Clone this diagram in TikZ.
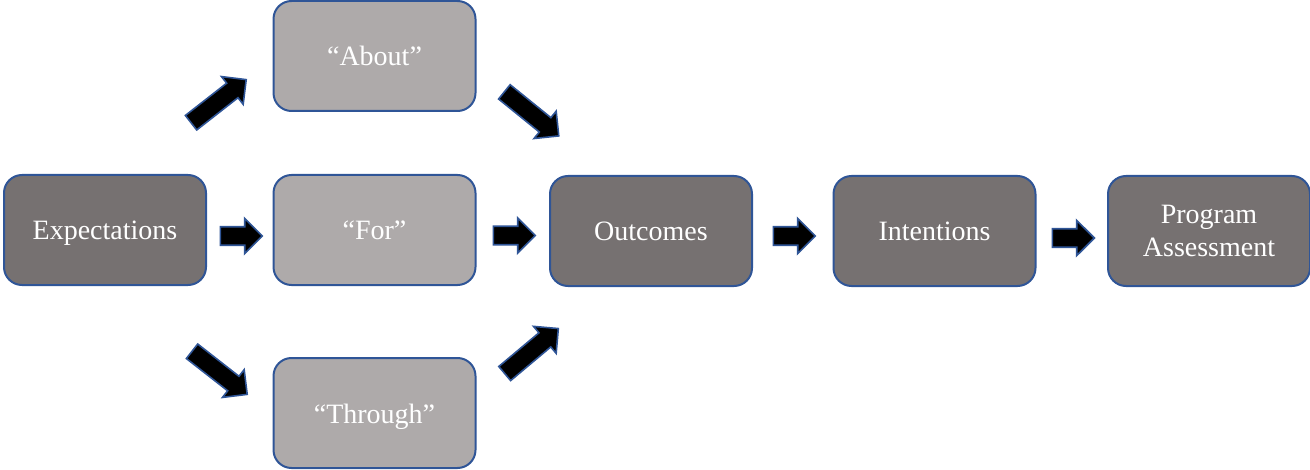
\documentclass[tikz,border=0pt]{standalone}
\usepackage{fontspec}
\setmainfont{Liberation Serif}
\usetikzlibrary{shapes.arrows,calc}
\definecolor{darkbox}{HTML}{767171}
\definecolor{lightbox}{HTML}{AEAAAA}
\definecolor{edgeblue}{HTML}{2F5597}
\tikzset{
  box/.style={draw=edgeblue, line width=1pt, rounded corners=9pt, minimum width=101pt, minimum height=55pt,
    inner sep=2pt, align=center, text=white, font=\fontsize{14}{16.5}\selectfont},
  oneline/.style={text height=10pt, text depth=0pt},
  darkstep/.style={box, fill=darkbox},
  lightstep/.style={box, fill=lightbox},
  blockarrow/.style={single arrow, draw=edgeblue, fill=black, line width=0.8pt, inner xsep=0pt, inner ysep=4.2pt,
    minimum width=16pt, single arrow head extend=4.2pt, minimum height=21pt},
  diagarrow/.style={blockarrow, minimum height=35pt}
}
\begin{document}
\begin{tikzpicture}[x=0.5pt,y=-0.5pt]
\useasboundingbox (0,0) rectangle (1310,470);
\node[darkstep, oneline] (exp) at (105,230) {Expectations};
\node[lightstep, oneline] (about) at (374.5,56) {“About”};
\node[lightstep, oneline] (for) at (374.5,230) {“For”};
\node[lightstep, oneline] (through) at (374.5,413) {“Through”};
\node[darkstep, oneline] (out) at (651,231) {Outcomes};
\node[darkstep, oneline] (int) at (934.5,231) {Intentions};
\node[darkstep] (prog) at (1209,231) {Program\\Assessment};
% horizontal block arrows between boxes
\node[blockarrow] (a1) at ($(exp.east)!0.5!(for.west)+(-3,6)$) {};
\node[blockarrow] (a2) at ($(for.east)!0.5!(out.west)+(-3,5)$) {};
\node[blockarrow] (a3) at ($(out.east)!0.5!(int.west)+(-3,5)$) {};
\node[blockarrow] (a4) at ($(int.east)!0.5!(prog.west)+(-3,7)$) {};
% diagonal block arrows
\node[diagarrow, rotate=38] (d1) at (215,104) {};
\node[diagarrow, rotate=-39] (d2) at (528,111) {};
\node[diagarrow, rotate=-38] (d3) at (216,370) {};
\node[diagarrow, rotate=40] (d4) at (528,354) {};
\end{tikzpicture}
\end{document}
